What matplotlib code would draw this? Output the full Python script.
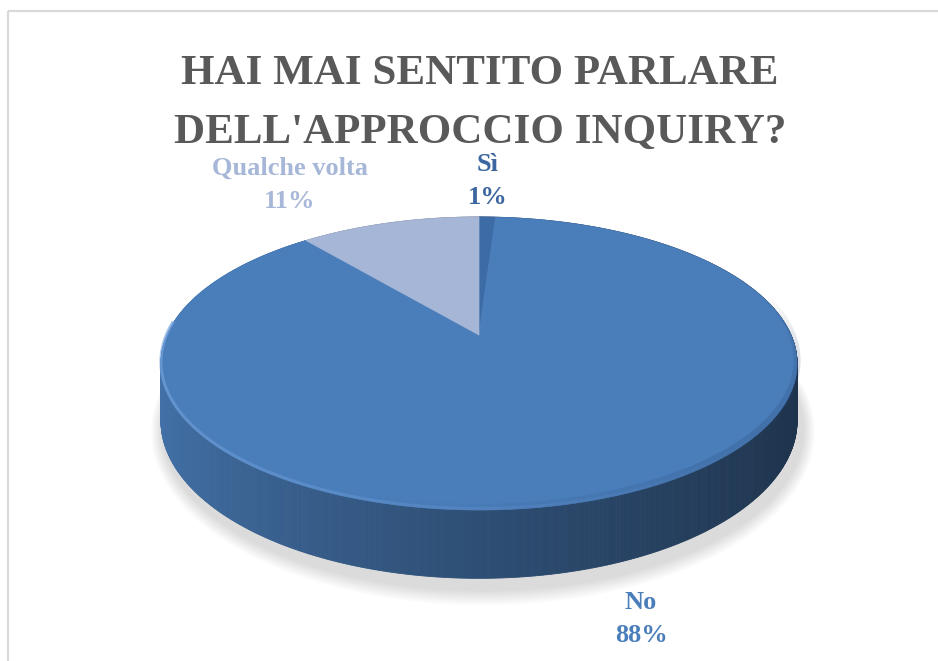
import numpy as np
import matplotlib.pyplot as plt
from matplotlib.collections import PolyCollection, LineCollection
from matplotlib.patches import Polygon, Rectangle
from matplotlib.colors import to_rgb


# Survey answers (percent), in the order the slices are laid out clockwise from 12 o'clock
labels = ['Sì', 'No', 'Qualche volta']
shares = [1, 88, 11]
title_lines = ['HAI MAI SENTITO PARLARE', "DELL'APPROCCIO INQUIRY?"]

top_colors = ['#3d6ba5', '#4a7ebb', '#a6b6d6']
label_colors = ['#3b66a0', '#4a7ebb', '#a6b7d7']
label_pos = [(488, 171), (641, 609), (290, 175)]   # baseline of first label line

# ----- pie geometry (pixels), simple perspective on a flat disc
cx, cy = 479, 335
kx, ky = 312, 141
persp = 0.1945
depth = 55


def project(phi, drop=0.0):
    u = np.cos(phi)
    v = np.sin(phi)
    w = 1 + persp * v
    return cx + kx * u / w, cy - ky * v / w + drop / w


def mix(c1, c2, t):
    a = np.array(to_rgb(c1))
    b = np.array(to_rgb(c2))
    return tuple(a + (b - a) * t)


fracs = np.array(shares) / np.sum(shares)
edges = np.deg2rad(90 - 360 * np.concatenate([[0], np.cumsum(fracs)]))

fig = plt.figure(figsize=(9.38, 6.61), dpi=100)
ax = fig.add_axes([0, 0, 1, 1])
ax.set_xlim(0, 938)
ax.set_ylim(661, 0)
ax.axis('off')

# chart border
ax.add_patch(Rectangle((8, 11), 1000, 700, fill=False, edgecolor='#d9d9d9', lw=1.6, zorder=0))

# ----- soft shadow under the disc
phi_all = np.linspace(0, 2 * np.pi, 400)
for i in range(12):
    grow = 14 - i
    bx, by = project(phi_all, depth + 4)
    sx = cx + 4 + (bx - cx) * (1 + grow / 320)
    sy = cy + depth + 4 + (by - cy - depth) * (1 + grow / 150)
    ax.add_patch(Polygon(np.column_stack([sx, sy]), closed=True, facecolor='#808080',
                         edgecolor='none', alpha=0.025, zorder=1))

# ----- side wall, drawn back to front
n = 900
phis = np.linspace(edges[0], edges[-1], n + 1)
quads = []
cols = []
depths = []
for i in range(n):
    p0, p1 = phis[i], phis[i + 1]
    x0, y0 = project(p0)
    x1, y1 = project(p1)
    x2, y2 = project(p1, depth)
    x3, y3 = project(p0, depth)
    quads.append([(x0, y0), (x1, y1), (x2, y2), (x3, y3)])
    pm = 0.5 * (p0 + p1)
    k = np.searchsorted(-edges, -pm) - 1
    k = min(max(k, 0), len(shares) - 1)
    t = (np.cos(pm) + 1) / 2
    light = mix(top_colors[k], '#000000', 0.08)
    dark = mix(top_colors[k], '#000000', 0.6)
    cols.append(mix(light, dark, t ** 0.8))
    depths.append(np.sin(pm))
order = np.argsort(depths)[::-1]
side = PolyCollection([quads[j] for j in order], facecolors=[cols[j] for j in order],
                      edgecolors=[cols[j] for j in order], linewidths=0.6, zorder=2)
ax.add_collection(side)

# ----- top faces
for k in range(len(shares)):
    arc = np.linspace(edges[k], edges[k + 1], 300)
    ax_, ay_ = project(arc)
    pts = np.column_stack([np.concatenate([[cx], ax_]), np.concatenate([[cy], ay_])])
    ax.add_patch(Polygon(pts, closed=True, facecolor=top_colors[k],
                         edgecolor=top_colors[k], lw=0.5, zorder=3))

# bevel highlight along the front-left rim, darker rim on the right
rim = np.deg2rad(np.linspace(175, 330, 200))
rx, ry = project(rim)
segs = [[(rx[i], ry[i] - 1.5), (rx[i + 1], ry[i + 1] - 1.5)] for i in range(len(rim) - 1)]
a = np.clip(1 - (rim[:-1] - rim[0]) / (rim[-1] - rim[0]), 0, 1) ** 1.3
hl = [(0.47, 0.65, 0.88, 0.75 * v) for v in a]
ax.add_collection(LineCollection(segs, colors=hl, linewidths=2.2, zorder=4))

rim2 = np.deg2rad(np.linspace(250, 375, 200))
rx2, ry2 = project(rim2)
segs2 = [[(rx2[i], ry2[i] - 3), (rx2[i + 1], ry2[i + 1] - 3)] for i in range(len(rim2) - 1)]
b = np.sin(np.linspace(0, np.pi, len(rim2) - 1)) * np.linspace(0.2, 1, len(rim2) - 1)
dk = [(0.16, 0.28, 0.45, 0.35 * v) for v in b]
ax.add_collection(LineCollection(segs2, colors=dk, linewidths=5, zorder=4))

# ----- texts
font = 'Liberation Serif'
ax.text(480, 84, title_lines[0], ha='center', va='baseline', fontsize=31,
        fontweight='bold', family=font, color='#595959')
ax.text(480, 143, title_lines[1], ha='center', va='baseline', fontsize=31,
        fontweight='bold', family=font, color='#595959')

for lab, val, col, (lx, ly) in zip(labels, shares, label_colors, label_pos):
    ax.text(lx, ly, lab, ha='center', va='baseline', fontsize=19,
            fontweight='bold', family=font, color=col)
    ax.text(lx, ly + 33, f'{val}%', ha='center', va='baseline', fontsize=19,
            fontweight='bold', family=font, color=col)

fig.savefig('out.png', dpi=100)
